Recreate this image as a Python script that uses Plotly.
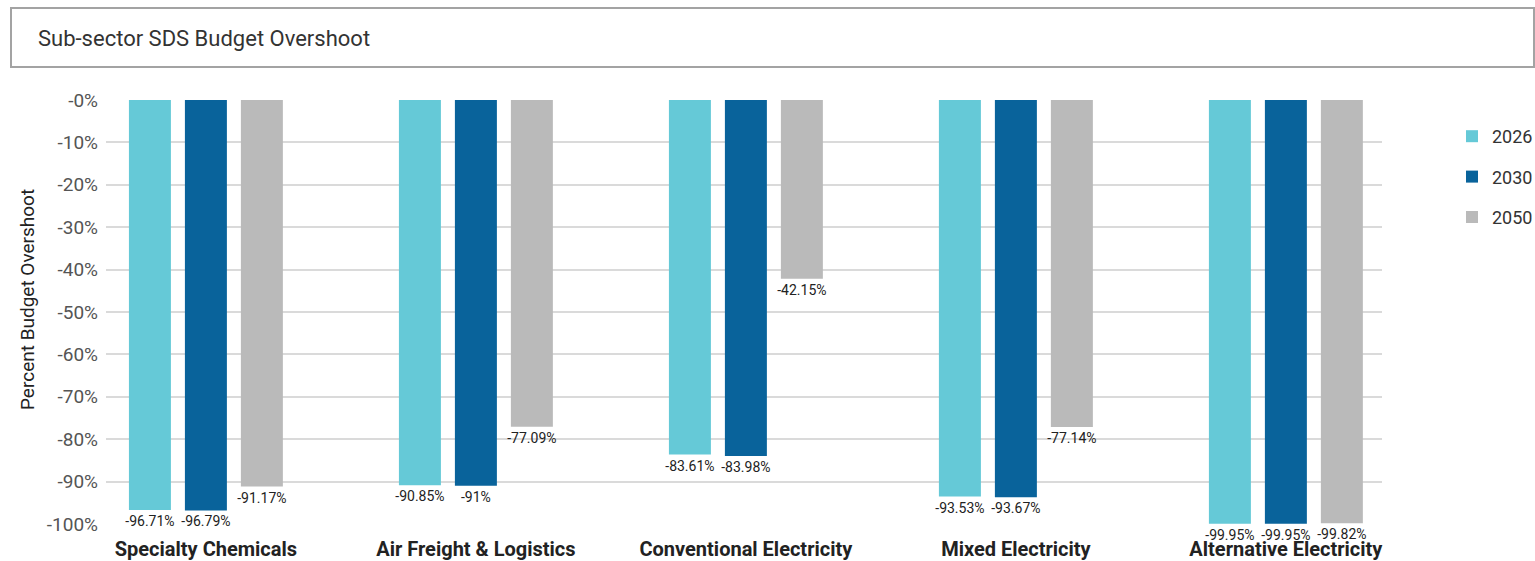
import plotly.graph_objects as go

# Sub-sector budget overshoot (percent) by target year
categories = ["Specialty Chemicals", "Air Freight & Logistics", "Conventional Electricity",
              "Mixed Electricity", "Alternative Electricity"]
overshoot_2026 = [-96.71, -90.85, -83.61, -93.53, -99.95]
overshoot_2030 = [-96.79, -91.0, -83.98, -93.67, -99.95]
overshoot_2050 = [-91.17, -77.09, -42.15, -77.14, -99.82]
series_names = ["2026", "2030", "2050"]
series_colors = ["#65C9D7", "#09639B", "#BABABA"]
tick_values = [0, -10, -20, -30, -40, -50, -60, -70, -80, -90, -100]
tick_labels = ["-0%", "-10%", "-20%", "-30%", "-40%", "-50%", "-60%", "-70%", "-80%", "-90%", "-100%"]

W, H = 1535, 561
L, R, T, B = 106, 153, 100, 37
pw, ph = W - L - R, H - T - B

fig = go.Figure()
for name, vals, color in zip(series_names, [overshoot_2026, overshoot_2030, overshoot_2050], series_colors):
    fig.add_trace(go.Bar(
        name=name, x=list(range(len(categories))), y=vals,
        marker=dict(color=color, line=dict(width=0)),
        text=[f"{v:g}%" for v in vals], textposition="outside", constraintext="none",
        textfont=dict(family="Roboto", size=14, color="#222222"),
        cliponaxis=False, legendgroup=name,
    ))


def px_x(p):
    return (p - L) / pw


def px_y(p):
    return (H - B - p) / ph


# Framed header box around the title
fig.add_shape(type="rect", xref="paper", yref="paper",
              x0=px_x(11), x1=px_x(1534), y0=px_y(67), y1=px_y(8),
              line=dict(color="#A3A3A3", width=2), fillcolor="rgba(0,0,0,0)")

# Y axis title
fig.add_annotation(text="Percent Budget Overshoot", xref="paper", yref="paper",
                   x=px_x(27), y=px_y(300), textangle=-90, showarrow=False,
                   xanchor="center", yanchor="middle",
                   font=dict(family="Roboto", size=19, color="#222222"))

fig.update_layout(
    width=W, height=H,
    margin=dict(l=L, r=R, t=T, b=B, autoexpand=False),
    paper_bgcolor="white", plot_bgcolor="white",
    barmode="group", bargap=0.378, bargroupgap=0.25,
    font=dict(family="Roboto", color="#222222"),
    title=dict(text="Sub-sector SDS Budget Overshoot", xref="container", yref="container",
               x=38 / W, y=1 - 38 / H, xanchor="left", yanchor="middle",
               font=dict(family="Roboto", size=22, color="#333333")),
    xaxis=dict(range=[-0.37, 4.356], tickvals=list(range(len(categories))), ticktext=categories,
               showgrid=False, zeroline=False, showline=False, ticks="",
               ticklabelstandoff=11,
               tickfont=dict(family="Roboto", size=20, color="#222222", weight="bold")),
    yaxis=dict(range=[-100, 0], tickvals=tick_values, ticktext=tick_labels,
               showgrid=True, gridcolor="#DADADA", gridwidth=1.5, zeroline=False,
               showline=False, ticks="", ticklabelstandoff=7,
               tickfont=dict(family="Roboto", size=19, color="#555555")),
    legend=dict(x=px_x(1452), y=px_y(118), xanchor="left", yanchor="top",
                font=dict(family="Roboto", size=18, color="#333333"),
                tracegroupgap=14, bgcolor="rgba(0,0,0,0)"),
)

fig.write_html("out.html")
